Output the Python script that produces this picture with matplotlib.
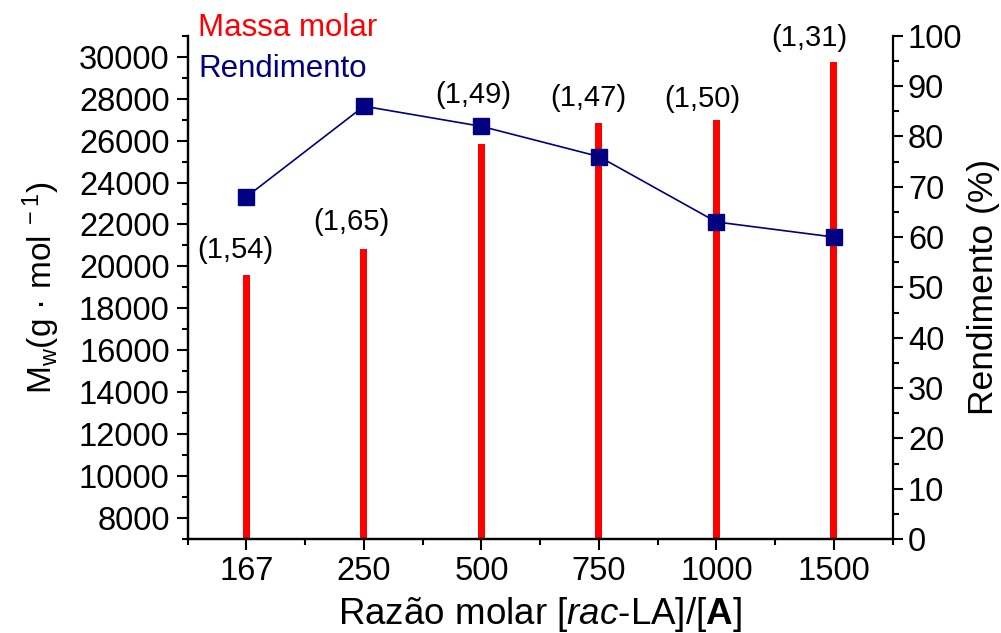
import matplotlib
matplotlib.use('Agg')
import matplotlib.pyplot as plt
import numpy as np

plt.rcParams['font.family'] = ['Liberation Sans', 'DejaVu Sans']
plt.rcParams['mathtext.fontset'] = 'custom'
plt.rcParams['mathtext.rm'] = 'Liberation Sans'
plt.rcParams['mathtext.it'] = 'Liberation Sans:italic'
plt.rcParams['mathtext.bf'] = 'Liberation Sans:bold'

# data
ratios = ['167', '250', '500', '750', '1000', '1500']
mw = [19600, 20850, 25850, 26850, 27000, 29750]
yield_pct = [68, 86, 82, 76, 63, 60]
pdi = ['(1,54)', '(1,65)', '(1,49)', '(1,47)', '(1,50)', '(1,31)']

# label offsets in points (dx, dy) above the bar tops
lab_dx = [-8, -9, -6, -8, -10, -18]
lab_dy = [18, 19, 35, 18, 15, 17]

x = np.arange(1, len(ratios) + 1)

fig = plt.figure(figsize=(10.01, 6.33), dpi=100)
ax = fig.add_axes([0.1875, 0.1485, 0.7043, 0.795])
ax2 = ax.twinx()

ax.bar(x, mw, width=0.06, color='#ff0000', zorder=2)
ax2.plot(x, yield_pct, color='#000080', lw=1.2, marker='s', ms=11,
         mfc='#000080', mec='#000080')

for xi, v, t, dx, dy in zip(x, mw, pdi, lab_dx, lab_dy):
    ax.annotate(t, (xi, v), xytext=(dx, dy), textcoords='offset points',
                ha='center', va='center', fontsize=21)

ax.set_xlim(0.5, len(ratios) + 0.5)
ax.set_ylim(7000, 31000)
ax2.set_ylim(0, 100)

ax.set_xticks(x)
ax.set_xticklabels(ratios)
ax.set_xticks(np.arange(0.5, len(ratios) + 1, 1), minor=True)
ax.set_yticks(np.arange(8000, 30001, 2000))
ax.set_yticks(np.arange(7000, 31001, 1000), minor=True)
ax2.set_yticks(np.arange(0, 101, 10))
ax2.set_yticks(np.arange(0, 101, 5), minor=True)

for a in (ax, ax2):
    a.spines['top'].set_visible(False)
    for s in a.spines.values():
        s.set_linewidth(1.6)
ax.spines['right'].set_visible(False)

ax.tick_params(axis='both', which='major', direction='out', length=8,
               width=1.5, labelsize=23.5, pad=5)
ax.tick_params(axis='both', which='minor', direction='out', length=4,
               width=1.5)
ax.tick_params(axis='x', which='major', pad=4)
ax2.tick_params(axis='y', which='major', direction='out', length=7,
                width=1.5, labelsize=23.5, pad=4)
ax2.tick_params(axis='y', which='minor', direction='out', length=4,
                width=1.5)

ax.set_xlabel(r'Razão molar [$\mathit{rac}$-LA]/[$\mathbf{A}$]', fontsize=26.5,
              labelpad=6)
ax.set_ylabel(r'M$_\mathrm{w}$(g · mol$^{\ -1}$)', fontsize=24, labelpad=12)
ax2.set_ylabel('Rendimento (%)', fontsize=25.5, labelpad=3)

ax.text(0.015, 1.015, 'Massa molar', transform=ax.transAxes, color='#ff0000',
        fontsize=22.5, va='center', ha='left')
ax.text(0.015, 0.934, 'Rendimento', transform=ax.transAxes, color='#000080',
        fontsize=22.5, va='center', ha='left')

fig.savefig('out.png', dpi=100)
